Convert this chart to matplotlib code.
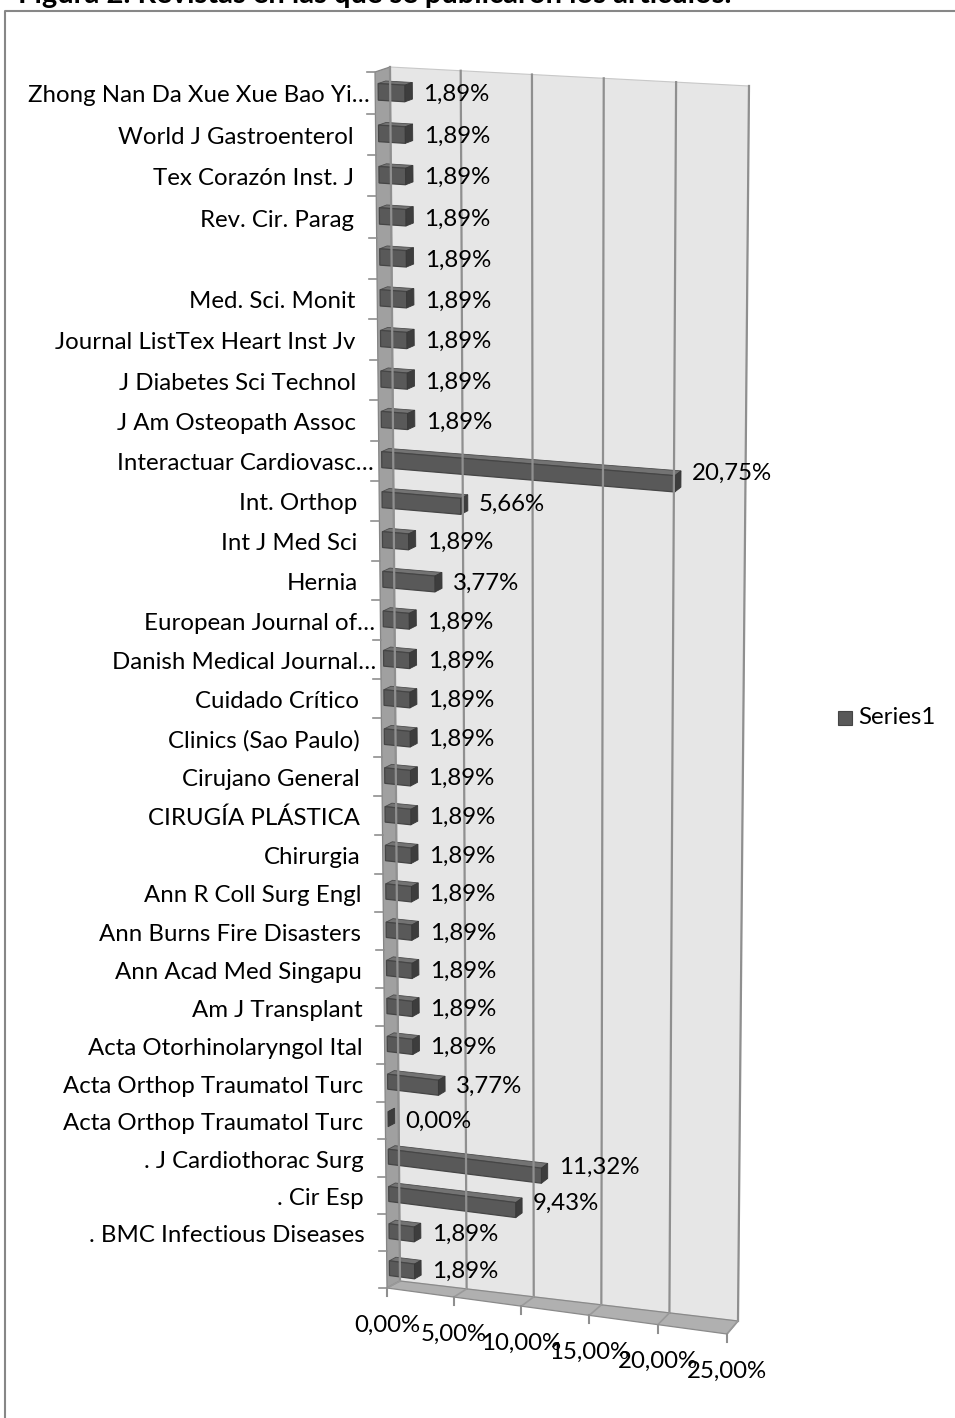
import numpy as np
import matplotlib
matplotlib.use("Agg")
import matplotlib.pyplot as plt
from matplotlib.patches import Polygon

# ---------------------------------------------------------------------------
# data (top row first, as shown in the chart)
# ---------------------------------------------------------------------------
journals = [
    "Zhong Nan Da Xue Xue Bao Yi…", "World J Gastroenterol", "Tex Corazón Inst. J",
    "Rev. Cir. Parag", "", "Med. Sci. Monit", "Journal ListTex Heart Inst Jv",
    "J Diabetes Sci Technol", "J Am Osteopath Assoc", "Interactuar Cardiovasc…",
    "Int. Orthop", "Int J Med Sci", "Hernia", "European Journal of…",
    "Danish Medical Journal…", "Cuidado Crítico", "Clinics (Sao Paulo)",
    "Cirujano General", "CIRUGÍA PLÁSTICA", "Chirurgia", "Ann R Coll Surg Engl",
    "Ann Burns Fire Disasters", "Ann Acad Med Singapu", "Am J Transplant",
    "Acta Otorhinolaryngol Ital", "Acta Orthop Traumatol Turc",
    "Acta Orthop Traumatol Turc", ". J Cardiothorac Surg", ". Cir Esp",
    ". BMC Infectious Diseases", "",
]
percent = [
    1.89, 1.89, 1.89, 1.89, 1.89, 1.89, 1.89, 1.89, 1.89, 20.75,
    5.66, 1.89, 3.77, 1.89, 1.89, 1.89, 1.89, 1.89, 1.89, 1.89,
    1.89, 1.89, 1.89, 1.89, 1.89, 3.77, 0.00, 11.32, 9.43, 1.89, 1.89,
]
xticks = [0, 5, 10, 15, 20, 25]
series_name = "Series1"
title = "Figura 2. Revistas en las que se publicaron los artículos."

VMAX = 25.0
NROW = len(journals)

# ---------------------------------------------------------------------------
# 3-D look: back wall corners (pixels) and the shift towards the viewer
# ---------------------------------------------------------------------------
WALL = np.array([[390, 67], [749, 86], [400, 1281], [738, 1321]], float)   # TL TR BL BR
DEPTH = np.array([[-15, 5], [-12, 8], [-13, 7], [-11, 13]], float)


def homography(corners):
    # unit square (u, t) -> quad TL TR BL BR
    src = [(0, 0), (1, 0), (0, 1), (1, 1)]
    A, b = [], []
    for (u, t), (x, y) in zip(src, corners):
        A.append([u, t, 1, 0, 0, 0, -u * x, -t * x]); b.append(x)
        A.append([0, 0, 0, u, t, 1, -u * y, -t * y]); b.append(y)
    h = np.linalg.solve(np.array(A, float), np.array(b, float))
    return np.append(h, 1).reshape(3, 3)


H_BACK = homography(WALL)
H_FRONT = homography(WALL + DEPTH)


def _apply(H, u, t):
    p = H @ np.array([u, t, 1.0])
    return p[:2] / p[2]


def proj(v, t, z):
    """value v, vertical fraction t (0 top .. 1 bottom), depth z (0 back .. 1 front)"""
    u = v / VMAX
    return (1 - z) * _apply(H_BACK, u, t) + z * _apply(H_FRONT, u, t)


def row_t(k):
    return (k + 0.5) / NROW


def pct(v):
    return f"{v:.2f}%".replace(".", ",")


plt.rcParams["font.family"] = ["Lato", "DejaVu Sans"]
FS = 17.3

fig = plt.figure(figsize=(9.55, 14.18), dpi=100)
ax = fig.add_axes([0, 0, 1, 1])
ax.set_xlim(0, 955)
ax.set_ylim(1418, 0)
ax.axis("off")

# chart frame and the title that is cut off at the top of the picture
ax.plot([5, 5, 955], [1418, 11, 11], color="#878787", lw=1.5)
ax.text(18, 3, title, fontsize=21, fontweight="bold", ha="left", va="baseline")

# walls
back = [proj(0, 0, 0), proj(VMAX, 0, 0), proj(VMAX, 1, 0), proj(0, 1, 0)]
side = [proj(0, 0, 0), proj(0, 0, 1), proj(0, 1, 1), proj(0, 1, 0)]
floor = [proj(0, 1, 0), proj(VMAX, 1, 0), proj(VMAX, 1, 1), proj(0, 1, 1)]
ax.add_patch(Polygon(back, closed=True, fc="#e6e6e6", ec="#c8c8c8", lw=0.8))
ax.add_patch(Polygon(side, closed=True, fc="#a0a0a0", ec="#858585", lw=0.9))
ax.add_patch(Polygon(floor, closed=True, fc="#b0b0b0", ec="#8a8a8a", lw=0.9))

# gridlines on back wall and floor, ticks and tick labels
for v in xticks:
    a, b = proj(v, 0, 0), proj(v, 1, 0)
    ax.plot([a[0], b[0]], [a[1], b[1]], color="#8f8f8f", lw=1.6)
    c = proj(v, 1, 1)
    ax.plot([b[0], c[0]], [b[1], c[1]], color="#999999", lw=1.2)
    ax.plot([c[0], c[0]], [c[1], c[1] + 8], color="#8f8f8f", lw=1.5)
    ax.text(c[0], c[1] + 37, pct(v), fontsize=FS, ha="center", va="center")

# category ticks on the side wall
for k in range(NROW + 1):
    p = proj(0, k / NROW, 1)
    ax.plot([p[0] - 8, p[0]], [p[1], p[1]], color="#8f8f8f", lw=1.2)

# bars as boxes
Z0, Z1, HALF = 0.3, 0.8, 0.2
for k, (name, v) in enumerate(zip(journals, percent)):
    t = row_t(k)
    ta, tb = t - HALF / NROW, t + HALF / NROW
    front = [proj(0, ta, Z1), proj(v, ta, Z1), proj(v, tb, Z1), proj(0, tb, Z1)]
    top = [proj(0, ta, Z0), proj(v, ta, Z0), proj(v, ta, Z1), proj(0, ta, Z1)]
    end = [proj(v, ta, Z0), proj(v, tb, Z0), proj(v, tb, Z1), proj(v, ta, Z1)]
    ax.add_patch(Polygon(top, closed=True, fc="#737373", ec="#4d4d4d", lw=0.6))
    if v > 0:
        ax.add_patch(Polygon(front, closed=True, fc="#595959", ec="#454545", lw=0.9))
    ax.add_patch(Polygon(end, closed=True, fc="#3d3d3d", ec="#383838", lw=0.6))

    p = proj(0, t, 1)
    e = proj(v, t, Z0)

    # value label
    ax.text(e[0] + 11, (e[1] + p[1]) / 2 + 3, pct(v), fontsize=FS,
            ha="left", va="center")

    # category label
    if name:
        dx = -5 if name.endswith("…") else -22
        ax.text(p[0] + dx, p[1] + 3, name, fontsize=FS, ha="right", va="center")

# legend
ax.add_patch(Polygon([[838, 711], [852, 711], [852, 725], [838, 725]], closed=True,
                     fc="#595959", ec="#454545", lw=0.8))
ax.text(858, 718, series_name, fontsize=FS, ha="left", va="center")

fig.savefig("out.png", dpi=100)
